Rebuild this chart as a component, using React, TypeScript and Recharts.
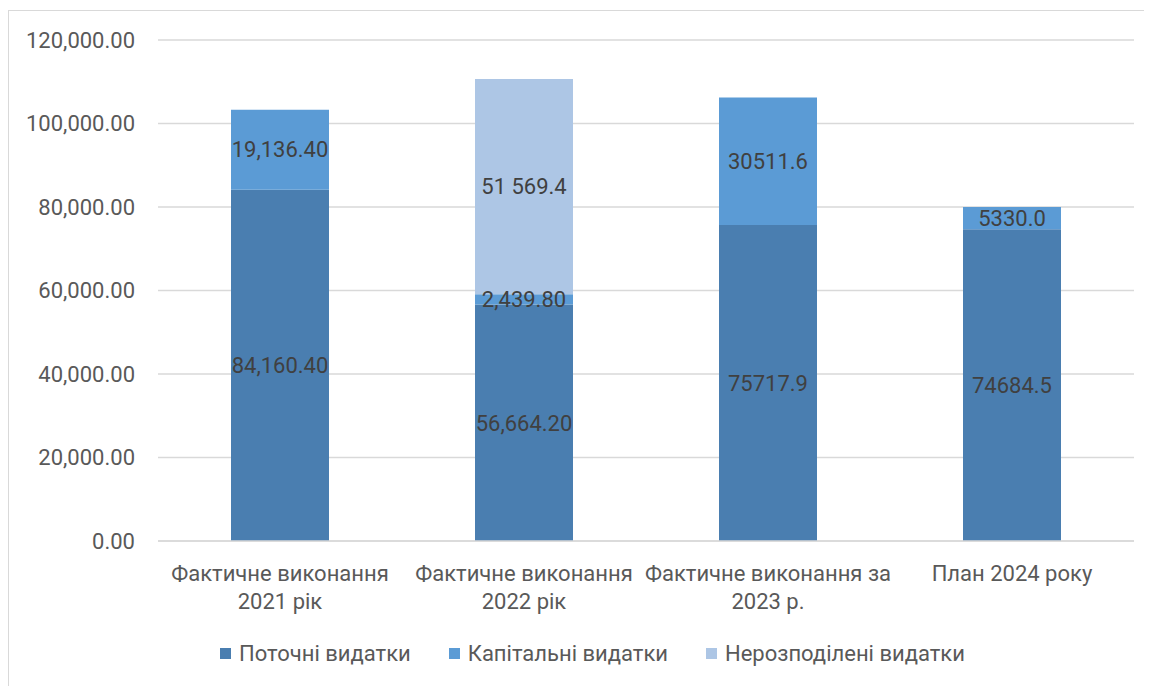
import React from "react";
import {
  BarChart,
  Bar,
  XAxis,
  YAxis,
  CartesianGrid,
  Legend,
  LabelList,
} from "recharts";

// категорії (два рядки підпису)
const categories = [
  ["Фактичне виконання", "2021 рік"],
  ["Фактичне виконання", "2022 рік"],
  ["Фактичне виконання за", "2023 р."],
  ["План 2024 року"],
];

// значення серій
const current = [84160.4, 56664.2, 75717.9, 74684.5];
const capital = [19136.4, 2439.8, 30511.6, 5330.0];
const unallocated = [0, 51569.4, 0, 0];

// підписи даних, як у джерелі
const currentLabels = ["84,160.40", "56,664.20", "75717.9", "74684.5"];
const capitalLabels = ["19,136.40", "2,439.80", "30511.6", "5330.0"];
const unallocatedLabels = ["", "51 569.4", "", ""];

const yTicks = [0, 20000, 40000, 60000, 80000, 100000, 120000];

const seriesNames = ["Поточні видатки", "Капітальні видатки", "Нерозподілені видатки"];
const colors = ["#4a7eb0", "#5b9bd5", "#adc6e5"];

const FONT = "Roboto, 'Noto Sans', sans-serif";
const FS = 22;

const data = categories.map((c, i) => ({
  name: c.join(" "),
  current: current[i],
  capital: capital[i],
  unallocated: unallocated[i] || null,
  curLabel: currentLabels[i],
  capLabel: capitalLabels[i],
  unLabel: unallocatedLabels[i],
}));

const fmt = (v: number) =>
  v.toLocaleString("en-US", { minimumFractionDigits: 2, maximumFractionDigits: 2 });

const XTick = (props: any) => {
  const { x, y, payload } = props;
  const lines = categories[payload.index] || [payload.value];
  return (
    <text x={x} y={y} textAnchor="middle" fill="#595959" fontSize={FS} fontFamily={FONT}>
      {lines.map((l, i) => (
        <tspan key={i} x={x} dy={i === 0 ? 20 : 28}>
          {l}
        </tspan>
      ))}
    </text>
  );
};

const LegendContent = () => (
  <div
    style={{
      display: "flex",
      justifyContent: "center",
      gap: 38,
      paddingTop: 10,
      paddingLeft: 42,
      fontFamily: FONT,
      fontSize: FS,
      color: "#595959",
    }}
  >
    {seriesNames.map((n, i) => (
      <div key={n} style={{ display: "flex", alignItems: "center", gap: 8 }}>
        <span style={{ width: 11, height: 11, background: colors[i], display: "inline-block" }} />
        <span>{n}</span>
      </div>
    ))}
  </div>
);

const labelStyle = { fill: "#404040", fontSize: FS, fontFamily: FONT };

export default function App() {
  return (
    <div
      style={{
        width: 1150,
        height: 680,
        marginTop: 2,
        borderLeft: "1px solid #d9d9d9",
        borderTop: "1px solid #d9d9d9",
        background: "#fff",
      }}
    >
      <BarChart
        width={1143}
        height={676}
        data={data}
        margin={{ top: 29, right: 18, bottom: 0, left: 0 }}
        barSize={98}
      >
        <CartesianGrid vertical={false} stroke="#d9d9d9" strokeWidth={1.5} />
        <XAxis
          dataKey="name"
          height={90}
          axisLine={{ stroke: "#d9d9d9", strokeWidth: 1.5 }}
          tickLine={false}
          tickSize={0}
          tickMargin={20}
          tick={<XTick />}
          interval={0}
        />
        <YAxis
          width={149}
          domain={[0, 120000]}
          ticks={yTicks}
          axisLine={false}
          tickLine={false}
          tickSize={0}
          tickMargin={23}
          tickFormatter={fmt}
          tick={{ fill: "#595959", fontSize: FS, fontFamily: FONT }}
        />
        <Legend
          verticalAlign="bottom"
          wrapperStyle={{ height: 56 }}
          content={<LegendContent />}
        />
        <Bar dataKey="current" stackId="a" fill={colors[0]} name={seriesNames[0]} isAnimationActive={false}>
          <LabelList dataKey="curLabel" position="center" style={labelStyle} />
        </Bar>
        <Bar dataKey="capital" stackId="a" fill={colors[1]} name={seriesNames[1]} isAnimationActive={false}>
          <LabelList dataKey="capLabel" position="center" style={labelStyle} />
        </Bar>
        <Bar dataKey="unallocated" stackId="a" fill={colors[2]} name={seriesNames[2]} isAnimationActive={false}>
          <LabelList dataKey="unLabel" position="center" style={labelStyle} />
        </Bar>
      </BarChart>
    </div>
  );
}
